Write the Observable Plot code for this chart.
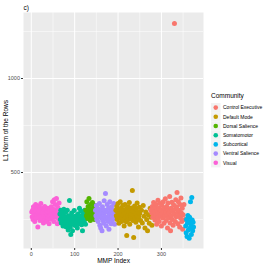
<!DOCTYPE html>
<html><head><meta charset="utf-8">
<script src="https://cdn.jsdelivr.net/npm/d3@7"></script>
<script src="https://cdn.jsdelivr.net/npm/@observablehq/plot@0.6"></script>
<style>
body{margin:0;background:#fff;font-family:"Liberation Sans",Arial,sans-serif}
#wrap{position:relative;width:266px;height:266px}
#chart{position:absolute;left:0;top:0}
#legend{position:absolute;left:0;top:0;pointer-events:none}
</style>
</head><body>
<div id="wrap"><div id="chart"></div><svg id="legend" width="266" height="266"></svg></div>
<script>
const communities = ["Control Executive","Default Mode","Dorsal Salience","Somatomotor","Subcortical","Ventral Salience","Visual"];
const colors = ["#F8766D","#C49A00","#53B400","#00C094","#00B6EB","#A58AFF","#FB61D7"];
const xTicks = [0,100,200,300];
const xMinor = [50,150,250,350];
const yTicks = [500,1000];
const yMinor = [250,750,1250];

// [MMP index, L1 norm] per community
const visual = [[1,290],[2,265],[3,300],[4,250],[5,318],[6,282],[7,272],[8,240],[9,305],[10,330],[11,258],[12,295],[13,275],[14,312],[15,210],[16,288],[17,262],[18,322],[19,300],[20,245],[21,280],[22,335],[23,268],[24,295],[25,255],[26,310],[27,287],[28,232],[29,270],[30,300],[31,320],[32,250],[33,282],[34,265],[35,298],[36,240],[37,275],[38,310],[39,258],[40,290],[41,228],[42,268],[43,305],[44,280],[45,252],[46,318],[47,292],[48,262],[49,345],[50,276],[51,305],[52,240],[53,355],[54,285],[55,330],[56,262],[57,300],[58,362],[59,272],[60,228],[61,315],[62,288],[63,250],[64,338],[65,270]];
const somatomotor = [[66,280],[67,250],[68,300],[69,232],[70,265],[71,290],[72,245],[73,215],[74,270],[75,305],[76,228],[77,258],[78,240],[79,288],[80,212],[81,262],[82,248],[83,300],[84,225],[85,195],[86,270],[87,240],[88,351],[89,255],[90,210],[91,170],[92,232],[93,285],[94,248],[95,190],[96,265],[97,225],[98,240],[99,298],[100,258],[101,218],[102,245],[103,270],[104,230],[105,255],[106,205],[107,240],[108,280],[109,262],[110,228],[111,310],[112,250],[113,238],[114,295],[115,268],[116,222],[117,255],[118,191],[119,240],[120,278],[121,260],[122,232],[123,300],[124,250],[125,225]];
const dorsal = [[126,300],[127,270],[128,345],[129,285],[130,255],[131,320],[132,290],[133,362],[134,268],[135,305],[136,245],[137,330],[138,280],[139,298],[140,262],[141,340],[142,310],[143,275],[144,292],[145,250],[146,325],[147,285]];
const ventral = [[148,300],[149,270],[150,325],[151,250],[152,285],[153,310],[154,240],[155,292],[156,265],[157,335],[158,220],[159,278],[160,205],[161,300],[162,258],[163,190],[164,318],[165,245],[166,282],[167,230],[168,350],[169,268],[170,300],[171,388],[172,252],[173,215],[174,290],[175,330],[176,262],[177,240],[178,310],[179,198],[180,275],[181,345],[182,255],[183,295],[184,228],[185,318],[186,268],[187,245],[188,300],[189,282],[190,335],[191,260],[192,225],[193,298]];
const defaultMode = [[195,300],[196,270],[197,320],[198,250],[199,290],[200,335],[201,265],[202,230],[203,305],[204,282],[205,345],[206,258],[207,310],[208,240],[209,290],[210,272],[211,325],[212,248],[213,300],[214,215],[215,280],[216,330],[217,260],[218,305],[219,238],[220,165],[221,290],[222,268],[223,318],[224,250],[225,285],[226,340],[227,225],[228,300],[229,270],[230,255],[231,312],[232,280],[233,404],[234,245],[235,295],[236,154],[237,268],[238,322],[239,258],[240,288],[241,235],[242,305],[243,272],[244,338],[245,250],[246,290],[247,210],[248,265],[249,315],[250,282],[252,245],[254,300],[256,232],[258,325],[260,268],[262,205],[264,290],[266,250],[268,191],[270,275],[272,230],[274,310],[276,262],[278,220]];
const control = [[276,300],[278,285],[279,320],[280,262],[281,305],[282,340],[283,275],[284,290],[285,248],[286,315],[287,270],[288,330],[289,225],[290,298],[291,280],[292,352],[293,260],[294,310],[295,240],[296,288],[297,335],[298,270],[299,300],[300,215],[301,325],[302,282],[303,258],[304,345],[305,295],[306,230],[307,312],[308,268],[309,360],[310,290],[311,245],[312,320],[313,275],[314,205],[315,338],[316,300],[317,258],[318,285],[319,372],[320,232],[321,191],[322,310],[323,270],[324,342],[325,250],[326,295],[327,220],[328,328],[329,280],[330,1292],[331,305],[332,240],[333,355],[334,265],[335,318],[336,394],[337,288],[338,228],[339,345],[340,272],[341,300],[342,210],[343,330],[344,258],[345,365],[346,285],[347,240],[348,310],[349,198],[350,275],[352,330],[354,250]];
const subcortical = [[356,215],[357,180],[358,250],[359,160],[360,230],[361,272],[362,195],[363,240],[364,150],[365,262],[366,205],[367,345],[368,225],[369,170],[370,367],[371,248],[372,190],[373,235],[374,210]];

const groups = [
  ["Visual", visual],["Somatomotor", somatomotor],["Dorsal Salience", dorsal],
  ["Ventral Salience", ventral],["Default Mode", defaultMode],["Control Executive", control],["Subcortical", subcortical]
];
const data = groups.flatMap(([c, arr]) => arr.map(([x, y]) => ({x, y, c})));

const chart = Plot.plot({
  width: 206, height: 266,
  marginLeft: 23, marginRight: 3, marginTop: 12, marginBottom: 18,
  style: {fontFamily: '"Liberation Sans", Arial, sans-serif', background: "transparent", overflow: "visible"},
  x: {domain: [-18, 397]},
  y: {domain: [96, 1351]},
  color: {domain: communities, range: colors},
  marks: [
    Plot.frame({fill: "#EBEBEB", stroke: null}),
    Plot.gridX(xMinor, {stroke: "#fff", strokeOpacity: 1, strokeWidth: 0.5}),
    Plot.gridY(yMinor, {stroke: "#fff", strokeOpacity: 1, strokeWidth: 0.5}),
    Plot.gridX(xTicks, {stroke: "#fff", strokeOpacity: 1, strokeWidth: 1}),
    Plot.gridY(yTicks, {stroke: "#fff", strokeOpacity: 1, strokeWidth: 1}),
    Plot.axisX(xTicks, {tickSize: 2, tickPadding: 1.5, fontSize: 5.5, color: "#4D4D4D", stroke: "#333", label: null, tickFormat: d3.format("d")}),
    Plot.axisY(yTicks, {tickSize: 2, tickPadding: 1.5, fontSize: 5.5, color: "#4D4D4D", stroke: "#333", label: null, tickFormat: d3.format("d")}),
    Plot.dot(data, {x: "x", y: "y", fill: "c", r: 2.5, stroke: null}),
    Plot.text(["MMP Index"], {frameAnchor: "bottom", dy: 14, fontSize: 6.5, fill: "#000"}),
    Plot.text(["L1 Norm of the Rows"], {frameAnchor: "left", dx: -18, rotate: -90, textAnchor: "middle", fontSize: 6.5, fill: "#000"}),
    Plot.text(["c)"], {frameAnchor: "top-left", dy: -7, textAnchor: "start", fontSize: 6.5, fill: "#000"})
  ]
});
document.getElementById("chart").appendChild(chart);

// legend
const lg = d3.select("#legend");
const lx = 211, ly = 96, step = 9.2, top0 = 103;
lg.append("text").attr("x", lx).attr("y", ly).attr("dy", "0.35em").attr("font-size", 6.5)
  .attr("font-family", '"Liberation Sans", Arial, sans-serif').text("Community");
communities.forEach((c, i) => {
  const y = top0 + i * step;
  lg.append("rect").attr("x", lx).attr("y", y).attr("width", 9.5).attr("height", step).attr("fill", "#F2F2F2");
  lg.append("circle").attr("cx", lx + 4.75).attr("cy", y + step / 2).attr("r", 2.3).attr("fill", colors[i]);
  lg.append("text").attr("x", lx + 12).attr("y", y + step / 2).attr("dy", "0.35em").attr("font-size", 5)
    .attr("font-family", '"Liberation Sans", Arial, sans-serif').attr("fill", "#000").text(c);
});
</script>
</body></html>
